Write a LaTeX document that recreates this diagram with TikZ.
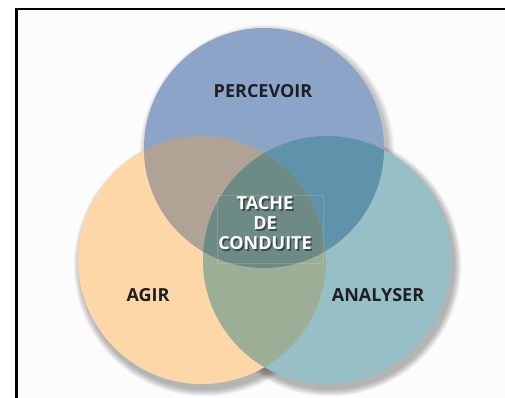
\documentclass[tikz,border=0pt]{standalone}
\usepackage{fontspec}
\setmainfont{Open Sans}
\usetikzlibrary{calc}
\definecolor{cblue}{HTML}{8DA4C9}
\definecolor{cpeach}{HTML}{FDD7A8}
\definecolor{cteal}{HTML}{97BFC6}
\definecolor{ctl}{HTML}{B0A396}
\definecolor{ctr}{HTML}{5F92AB}
\definecolor{clr}{HTML}{9DAE97}
\definecolor{cmid}{HTML}{6D8A84}
\definecolor{ctext}{HTML}{1E1E24}
\definecolor{cshade}{HTML}{3A4B48}
\newcommand\shadowed[1]{\makebox[0pt][l]{\hspace{1.6pt}\raisebox{-1.8pt}{\textcolor{cshade}{#1}}}\textcolor{white}{#1}}
\tikzset{
  lbl/.style={font=\bfseries\fontsize{18}{20}\selectfont, text=ctext, inner sep=0pt},
  midlbl/.style={font=\bfseries\fontsize{18}{20}\selectfont, align=center, inner sep=0pt},
}
\begin{document}
\begin{tikzpicture}[x=1pt,y=-1pt]
\useasboundingbox (0,0) rectangle (505,398);
\fill[white] (0,0) rectangle (505,398);
\fill[black!1] (17,9) rectangle (505,398);
% frame
\draw[black, line width=2.2pt] (16.5,398) -- (16.5,9) -- (505,9);
\coordinate (cL) at (202,260);
\coordinate (cR) at (327,260);
\coordinate (cT) at (264,148);
% soft shadows
\foreach \i in {1,...,8}{
  \fill[black, opacity=0.04] ($(cL)+(3,5)$) circle (124+\i*0.9);
  \fill[black, opacity=0.04] ($(cR)+(3,5)$) circle (124+\i*0.9);
  \fill[black, opacity=0.03] ($(cT)+(3,4)$) circle (120+\i*0.9);
}
\fill[cpeach] (cL) circle (124);
\fill[cteal] (cR) circle (124);
\fill[cblue] (cT) circle (120);
\begin{scope}
  \clip (cL) circle (124);
  \fill[ctl] (cT) circle (120);
\end{scope}
\begin{scope}
  \clip (cR) circle (124);
  \fill[ctr] (cT) circle (120);
\end{scope}
\begin{scope}
  \clip (cL) circle (124);
  \fill[clr] (cR) circle (124);
\end{scope}
\begin{scope}
  \clip (cL) circle (124);
  \clip (cR) circle (124);
  \fill[cmid] (cT) circle (120);
\end{scope}
% faint box around centre text
\draw[white, opacity=0.15, line width=0.6pt] (217,195) rectangle (323,263);
\node[lbl] (perc) at (263,91) {PERCEVOIR};
\node[lbl] (agir) at (148,295) {AGIR};
\node[lbl] (anal) at (378,295) {ANALYSER};
\node[midlbl] (mid) at (265,224) {\shadowed{TACHE}\\\shadowed{DE}\\\shadowed{CONDUITE}};
\end{tikzpicture}
\end{document}
